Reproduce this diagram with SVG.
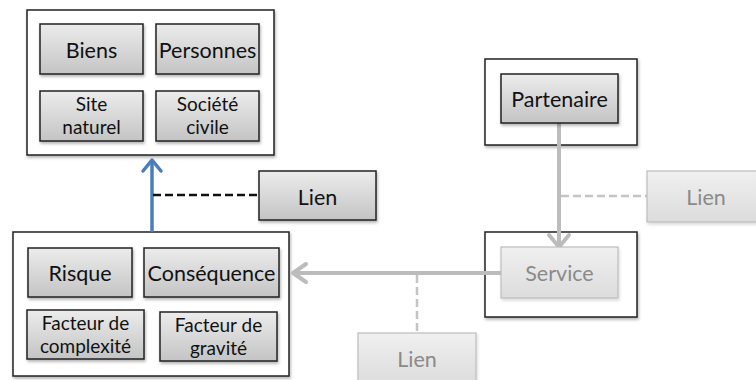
<svg xmlns="http://www.w3.org/2000/svg" width="756" height="380" viewBox="0 0 756 380">
<defs>
<linearGradient id="g" x1="0" y1="0" x2="0" y2="1"><stop offset="0" stop-color="#ececec"/><stop offset="1" stop-color="#c4c4c4"/></linearGradient>
<linearGradient id="gl" x1="0" y1="0" x2="0" y2="1"><stop offset="0" stop-color="#f0f0f0"/><stop offset="1" stop-color="#dcdcdc"/></linearGradient>
<filter id="sh" x="-10%" y="-10%" width="130%" height="140%"><feDropShadow dx="1" dy="2" stdDeviation="1.5" flood-color="#000" flood-opacity="0.3"/></filter>
<filter id="shl" x="-10%" y="-10%" width="130%" height="140%"><feDropShadow dx="1" dy="2" stdDeviation="1.5" flood-color="#000" flood-opacity="0.15"/></filter>
</defs>
<style>
.cont{fill:#fff;stroke:#222;stroke-width:1.5;filter:url(#sh)}
.box{fill:url(#g);stroke:#222;stroke-width:1.5;filter:url(#sh)}
.ghost{fill:url(#gl);stroke:#bdbdbd;stroke-width:1.2;filter:url(#shl)}
text{font-family:Lato,"Open Sans","Liberation Sans",sans-serif;text-anchor:middle;fill:#111}
.t1{font-size:21.5px}
.t2{font-size:19px}
.tg{fill:#8a8a8a;font-size:21.5px}
</style>
<rect x="0" y="0" width="756" height="380" fill="#fff"/>
<g id="container-cibles"><rect class="cont" x="27" y="10" width="247" height="145"/></g>
<g id="container-risque"><rect class="cont" x="13" y="232" width="276" height="144"/></g>
<g id="container-partenaire"><rect class="cont" x="485" y="59" width="152" height="86"/></g>
<g id="container-service"><rect class="cont" x="485" y="232" width="152" height="85"/></g>
<g id="connectors">
<line x1="152" y1="232" x2="152" y2="162" stroke="#4a7ebb" stroke-width="3.5"/>
<polyline points="143,171 152,160 161,171" fill="none" stroke="#4a7ebb" stroke-width="3.5" stroke-linejoin="round" stroke-linecap="round"/>
<line x1="153" y1="195" x2="259" y2="195" stroke="#111" stroke-width="2.5" stroke-dasharray="8,4"/>
<line x1="559" y1="123" x2="559" y2="245" stroke="#bcbcbc" stroke-width="4"/>
<polyline points="549,235 559,247 569,235" fill="none" stroke="#bcbcbc" stroke-width="4" stroke-linejoin="round" stroke-linecap="round"/>
<line x1="561" y1="196" x2="647" y2="196" stroke="#c4c4c4" stroke-width="2.5" stroke-dasharray="8,4"/>
<line x1="501" y1="273" x2="294" y2="273" stroke="#bcbcbc" stroke-width="4"/>
<polyline points="306,264 293,273 306,282" fill="none" stroke="#bcbcbc" stroke-width="4" stroke-linejoin="round" stroke-linecap="round"/>
<line x1="417" y1="275" x2="417" y2="333" stroke="#c4c4c4" stroke-width="2.5" stroke-dasharray="8,4"/>
</g>
<g id="node-biens"><rect class="box" x="40" y="24" width="103" height="50"/><text class="t1" x="91.5" y="58">Biens</text></g>
<g id="node-personnes"><rect class="box" x="156" y="24" width="103" height="50"/><text class="t1" x="207.5" y="58">Personnes</text></g>
<g id="node-site"><rect class="box" x="40" y="91" width="103" height="50"/><text class="t2" x="91.5" y="111">Site<tspan x="91.5" dy="23">naturel</tspan></text></g>
<g id="node-societe"><rect class="box" x="156" y="91" width="103" height="50"/><text class="t2" x="207.5" y="111">Société<tspan x="207.5" dy="23">civile</tspan></text></g>
<g id="node-risque"><rect class="box" x="28" y="248" width="104" height="49"/><text class="t1" x="80" y="281">Risque</text></g>
<g id="node-consequence"><rect class="box" x="144" y="248" width="135" height="49"/><text class="t1" x="211.5" y="281">Conséquence</text></g>
<g id="node-complexite"><rect class="box" x="27" y="310" width="117" height="49"/><text class="t2" x="85.5" y="330">Facteur de<tspan x="85.5" dy="23">complexité</tspan></text></g>
<g id="node-gravite"><rect class="box" x="160" y="312" width="117" height="49"/><text class="t2" x="218.5" y="332">Facteur de<tspan x="218.5" dy="23">gravité</tspan></text></g>
<g id="node-lien1"><rect class="box" x="259" y="171" width="117" height="49"/><text class="t1" x="317.5" y="205">Lien</text></g>
<g id="node-partenaire"><rect class="box" x="501" y="74" width="117" height="49"/><text class="t1" x="559.5" y="107">Partenaire</text></g>
<g id="node-service"><rect class="ghost" x="501" y="247" width="117" height="51"/><text class="tg" x="559.5" y="281">Service</text></g>
<g id="node-lien2"><rect class="ghost" x="647" y="171" width="118" height="51"/><text class="tg" x="706" y="205">Lien</text></g>
<g id="node-lien3"><rect class="ghost" x="358" y="333" width="118" height="51"/><text class="tg" x="417" y="367">Lien</text></g>
</svg>
